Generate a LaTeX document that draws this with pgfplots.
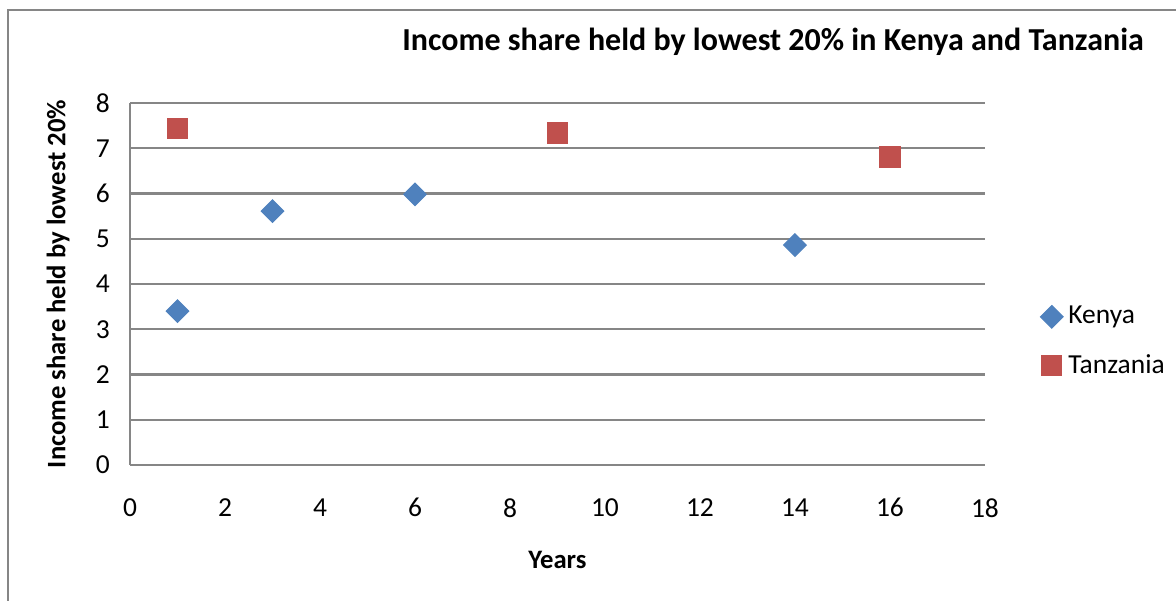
\documentclass[border=0pt]{standalone}
\usepackage{fontspec}
\setmainfont{Carlito}
\usepackage{pgfplots}
\pgfplotsset{compat=1.18}
\definecolor{kenyablue}{HTML}{4F81BD}
\definecolor{tzred}{HTML}{C0504D}
\definecolor{gridgray}{HTML}{868686}

\begin{document}
\begin{tikzpicture}
\path[use as bounding box] (0pt,0pt) rectangle (441pt,225.375pt);
% outer chart frame (cropped on right and bottom)
\draw[gridgray,line width=0.8pt] (3pt,-3pt) -- (3pt,221.6pt) -- (445pt,221.6pt);
\begin{axis}[
  at={(48.75pt,51pt)},anchor=south west,
  scale only axis,
  width=320.6pt,height=135.75pt,
  xmin=0,xmax=18,ymin=0,ymax=8,
  xtick={0,2,...,18},ytick={0,1,...,8},
  axis x line*=bottom,axis y line*=left,
  axis line style={gridgray,line width=0.8pt,-},
  major tick length=0pt,
  ymajorgrids,grid style={gridgray,line width=0.8pt},
  tick label style={font=\fontsize{10.3}{12}\selectfont},
  /pgf/number format/assume math mode=true,
  xticklabel style={yshift=-9pt},
  yticklabel style={xshift=-4pt},
  xlabel={\textbf{Years}},
  xlabel style={font=\fontsize{10}{12}\selectfont,yshift=-6pt},
  ylabel={\textbf{Income share held by lowest 20\%}},
  ylabel style={font=\fontsize{10}{12}\selectfont,yshift=3pt},
  legend style={at={(1.055,0.47)},anchor=north west,draw=none,fill=none,
    font=\fontsize{10.3}{12}\selectfont,row sep=6pt,
    /tikz/every even column/.append style={column sep=-2pt}},
  legend cell align=left,
  clip=false]
\addplot[only marks,mark=square*,mark size=3pt,
  mark options={rotate=45,fill=kenyablue,draw=kenyablue}]
  coordinates {(1,3.40) (3,5.61) (6,5.98) (14,4.86)};
\addlegendentry{Kenya}
\addplot[only marks,mark=square*,mark size=3.8pt,
  mark options={fill=tzred,draw=tzred}]
  coordinates {(1,7.43) (9,7.34) (16,6.81)};
\addlegendentry{Tanzania}
\end{axis}
\node[font=\fontsize{12}{14}\selectfont\bfseries] at (289.9pt,209.6pt)
  {Income share held by lowest 20\% in Kenya and Tanzania};
\end{tikzpicture}
\end{document}
